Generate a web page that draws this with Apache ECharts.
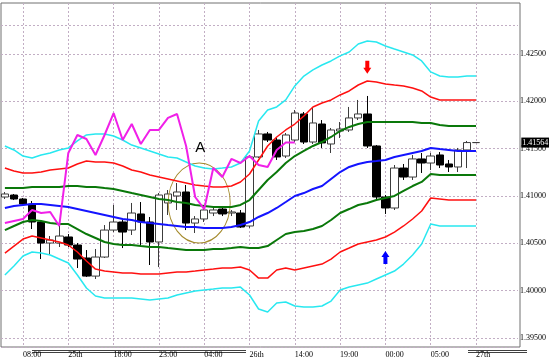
<!DOCTYPE html>
<html><head><meta charset="utf-8">
<script src="https://cdn.jsdelivr.net/npm/echarts@6/dist/echarts.min.js"></script>
<style>html,body{margin:0;padding:0;background:#fff}#c{width:549px;height:361px}</style>
</head><body><div id="c"></div>
<script>
// ---- data ----
const tickLabels = ['08:00','25th','18:00','23:00','04:00','26th','14:00','19:00','00:00','05:00','27th'];
const firstTickIndex = 2, tickStep = 5, slotCount = 58;

const open = [1.40989,1.41010,1.40968,1.40915,1.40725,1.40503,1.40503,1.40567,1.40482,1.40345,
1.40154,1.40355,1.40640,1.40725,1.40640,1.40810,1.40725,1.40514,1.40926,1.41000,
1.41042,1.40714,1.40757,1.40820,1.40862,1.40820,1.40820,1.40683,1.41412,1.41655,
1.41591,1.41422,1.41591,1.41866,1.41570,1.41760,1.41549,1.41686,1.41697,1.41824,
1.41866,1.41528,1.40989,1.40873,1.41295,1.41200,1.41391,1.41348,1.41433,1.41338,
1.41306,1.41486,1.41564];
const close = [1.41021,1.40968,1.40915,1.40725,1.40503,1.40535,1.40577,1.40482,1.40334,1.40154,
1.40355,1.40640,1.40725,1.40619,1.40820,1.40725,1.40514,1.41010,1.41021,1.41042,
1.40714,1.40757,1.40852,1.40852,1.40810,1.40831,1.40672,1.41412,1.41655,1.41591,
1.41412,1.41644,1.41876,1.41570,1.41771,1.41560,1.41697,1.41707,1.41824,1.41866,
1.41528,1.40989,1.40873,1.41295,1.41200,1.41391,1.41348,1.41422,1.41327,1.41306,
1.41486,1.41564,1.41564];
const low = [1.40968,1.40957,1.40894,1.40651,1.40334,1.40376,1.40461,1.40461,1.40239,1.40144,
1.40123,1.40345,1.40619,1.40450,1.40588,1.40482,1.40271,1.40249,1.40799,1.40852,
1.40640,1.40609,1.40725,1.40788,1.40788,1.40788,1.40662,1.40662,1.41401,1.41570,
1.41380,1.41401,1.41570,1.41549,1.41549,1.41507,1.41454,1.41612,1.41676,1.41802,
1.41507,1.40968,1.40810,1.40852,1.41169,1.41169,1.41243,1.41274,1.41295,1.41253,
1.41253,1.41295,1.41564];
const high = [1.41042,1.41021,1.40979,1.40947,1.40746,1.40577,1.40683,1.40598,1.40503,1.40429,
1.40440,1.40693,1.40905,1.40746,1.40926,1.40936,1.40778,1.41031,1.41063,1.41137,
1.41116,1.40788,1.40905,1.40883,1.40883,1.40852,1.40852,1.41433,1.41697,1.41676,
1.41612,1.41665,1.41908,1.41887,1.41929,1.41802,1.41718,1.41781,1.41940,1.42014,
1.42056,1.41538,1.41010,1.41327,1.41338,1.41433,1.41454,1.41454,1.41464,1.41380,
1.41507,1.41581,1.41564];

const lagLine = [1.40714,1.40736,1.40757,1.40852,1.40820,1.40831,1.40683,1.41454,1.41644,1.41602,
1.41433,1.41644,1.41876,1.41591,1.41760,1.41549,1.41697,1.41697,1.41824,1.41866,
1.41528,1.40989,1.40862,1.41295,1.41200,1.41391,1.41348,1.41422,1.41327,1.41306,
1.41486,1.41564,1.41564];

const bbMid = [1.40873,1.40894,1.40905,1.40915,1.40915,1.40905,1.40894,1.40883,1.40862,1.40841,
1.40820,1.40799,1.40778,1.40757,1.40746,1.40725,1.40714,1.40704,1.40693,1.40683,
1.40672,1.40672,1.40662,1.40662,1.40662,1.40672,1.40693,1.40725,1.40778,1.40820,
1.40873,1.40936,1.41000,1.41031,1.41074,1.41105,1.41179,1.41253,1.41306,1.41338,
1.41359,1.41369,1.41380,1.41412,1.41433,1.41454,1.41475,1.41507,1.41496,1.41486,
1.41475,1.41475,1.41475];
const bbUp1 = [1.41084,1.41084,1.41084,1.41095,1.41095,1.41095,1.41095,1.41105,1.41105,1.41095,
1.41095,1.41084,1.41074,1.41053,1.41031,1.41010,1.40989,1.40968,1.40957,1.40936,
1.40926,1.40905,1.40894,1.40883,1.40883,1.40883,1.40905,1.40957,1.41063,1.41169,
1.41253,1.41348,1.41422,1.41475,1.41528,1.41570,1.41623,1.41686,1.41729,1.41760,
1.41781,1.41781,1.41781,1.41781,1.41781,1.41781,1.41771,1.41771,1.41750,1.41739,
1.41739,1.41739,1.41739];
const bbDn1 = [1.40640,1.40683,1.40725,1.40746,1.40736,1.40714,1.40704,1.40704,1.40651,1.40598,
1.40556,1.40514,1.40493,1.40482,1.40482,1.40471,1.40461,1.40461,1.40450,1.40440,
1.40429,1.40429,1.40429,1.40440,1.40440,1.40450,1.40461,1.40450,1.40450,1.40471,
1.40535,1.40598,1.40619,1.40630,1.40651,1.40683,1.40746,1.40820,1.40862,1.40905,
1.40926,1.40957,1.40979,1.41000,1.41053,1.41105,1.41148,1.41232,1.41222,1.41222,
1.41222,1.41222,1.41222];
const bbUp2 = [1.41295,1.41264,1.41243,1.41243,1.41253,1.41274,1.41285,1.41295,1.41338,1.41369,
1.41359,1.41359,1.41348,1.41317,1.41274,1.41253,1.41222,1.41200,1.41179,1.41158,
1.41137,1.41116,1.41105,1.41095,1.41095,1.41105,1.41148,1.41232,1.41380,1.41528,
1.41623,1.41697,1.41760,1.41845,1.41940,1.41982,1.42014,1.42067,1.42109,1.42172,
1.42214,1.42204,1.42183,1.42172,1.42162,1.42140,1.42109,1.42045,1.42014,1.42014,
1.42014,1.42014,1.42014];
const bbDn2 = [1.40397,1.40471,1.40545,1.40577,1.40556,1.40535,1.40514,1.40482,1.40408,1.40313,
1.40228,1.40207,1.40197,1.40186,1.40186,1.40175,1.40175,1.40175,1.40186,1.40197,
1.40197,1.40207,1.40218,1.40228,1.40239,1.40239,1.40249,1.40218,1.40133,1.40133,
1.40218,1.40239,1.40218,1.40239,1.40260,1.40281,1.40334,1.40408,1.40450,1.40493,
1.40514,1.40535,1.40567,1.40619,1.40683,1.40757,1.40841,1.40979,1.40968,1.40957,
1.40957,1.40957,1.40957];
const bbUp3 = [1.41528,1.41486,1.41422,1.41401,1.41433,1.41454,1.41486,1.41507,1.41581,1.41644,
1.41655,1.41655,1.41633,1.41591,1.41538,1.41507,1.41475,1.41443,1.41412,1.41401,
1.41359,1.41317,1.41295,1.41285,1.41295,1.41306,1.41348,1.41475,1.41792,1.41908,
1.41940,1.42014,1.42162,1.42267,1.42331,1.42383,1.42426,1.42479,1.42521,1.42605,
1.42637,1.42626,1.42584,1.42552,1.42521,1.42489,1.42426,1.42310,1.42267,1.42257,
1.42257,1.42267,1.42267];
const bbDn3 = [1.40165,1.40260,1.40366,1.40408,1.40397,1.40376,1.40334,1.40292,1.40165,1.40028,
1.39943,1.39922,1.39922,1.39922,1.39922,1.39912,1.39901,1.39912,1.39922,1.39954,
1.39975,1.39996,1.40007,1.40017,1.40028,1.40028,1.40038,1.39954,1.39806,1.39774,
1.39869,1.39880,1.39838,1.39827,1.39827,1.39838,1.39890,1.40007,1.40038,1.40059,
1.40080,1.40123,1.40165,1.40207,1.40281,1.40376,1.40493,1.40704,1.40683,1.40683,
1.40683,1.40683,1.40683];

const lastPrice = 1.41564;
const yMin = 1.39405, yMax = 1.43038;   // visible price range of the plot
const labelMax = 1.42800;               // top of the labelled scale (no 1.43000 line)
// annotation anchors (bar index, price)
const sellArrow = [40, 1.42359];
const buyArrow = [42, 1.40350];
const circleA = [22, 1.40926];
const labelA = [22, 1.41507];

// ---- chart ----
const categories = [];
for (let i = 0; i < slotCount; i++) {
  const k = i - firstTickIndex;
  categories.push(k >= 0 && k % tickStep === 0 && k / tickStep < tickLabels.length ? tickLabels[k / tickStep] : '');
}
const candles = open.map((o, i) => [o, close[i], low[i], high[i]]);
const serif = 'Liberation Serif';
const gridCol = '#c2aec4';

const plotTop = 3, plotH = 344;
const pxPerUnit = plotH / (yMax - yMin);
const labelTop = plotTop + (yMax - labelMax) * pxPerUnit;

function lineSeries(data, color, width, extra) {
  return Object.assign({
    type: 'line', data: data, symbol: 'none', smooth: false, z: 5,
    lineStyle: { color: color, width: width }, silent: true,
    emphasis: { disabled: true }, clip: false
  }, extra || {});
}

const chart = echarts.init(document.getElementById('c'));
chart.setOption({
  animation: false,
  backgroundColor: '#ffffff',
  grid: [
    { left: 4.9, top: plotTop, width: 57 * 9.06, height: plotH, show: false },
    { left: 1, top: plotTop, width: 519, height: plotH, show: true, borderColor: '#707070', borderWidth: 1, backgroundColor: 'transparent' },
    { left: 1, top: labelTop, width: 519, height: plotTop + plotH - labelTop, show: false }
  ],
  xAxis: [
    { type: 'category', gridIndex: 0, data: categories, boundaryGap: false,
      axisLine: { show: false }, axisTick: { show: false },
      axisLabel: { interval: 0, align: 'left', margin: 4, fontSize: 8, fontFamily: serif, color: '#000' },
      splitLine: { show: true, interval: function (idx, val) { return val !== ''; },
        lineStyle: { color: gridCol, type: [2, 2], width: 1 } } },
    { type: 'value', gridIndex: 1, min: 0, max: 1, show: false },
    { type: 'value', gridIndex: 2, min: 0, max: 1, show: false }
  ],
  yAxis: [
    { type: 'value', gridIndex: 0, min: yMin, max: yMax, show: false, splitLine: { show: false } },
    { type: 'value', gridIndex: 1, min: yMin, max: yMax, show: false, splitLine: { show: false } },
    { type: 'value', gridIndex: 2, min: yMin, max: labelMax, position: 'right', splitNumber: 6,
      axisLine: { show: false }, axisTick: { show: false },
      axisLabel: { margin: 2, fontSize: 8, fontFamily: serif, color: '#000',
        showMinLabel: false, showMaxLabel: false,
        formatter: function (v) { return v.toFixed(5); } },
      splitLine: { show: true, lineStyle: { color: gridCol, type: [2, 2], width: 1 } } }
  ],
  series: [
    { type: 'candlestick', xAxisIndex: 0, yAxisIndex: 0, data: candles, barWidth: 8, z: 3,
      clip: false, silent: true,
      itemStyle: { color: '#ffffff', color0: '#000000', borderColor: '#3c3c3c', borderColor0: '#000000', borderWidth: 1 },
      markLine: { silent: true, symbol: ['none', 'none'], animation: false, z: 10, precision: 5,
        data: [{ yAxis: lastPrice }],
        lineStyle: { color: 'rgba(0,0,0,0)', width: 1, type: 'solid' },
        label: { show: true, position: 'end', distance: 0, formatter: function (p) { return Number(p.value).toFixed(5); },
          backgroundColor: '#000', color: '#fff', fontSize: 8, fontFamily: serif, padding: [1, 1, 1, 1] } }
    },
    lineSeries(bbUp3, '#28e8f0', 1.5),
    lineSeries(bbDn3, '#28e8f0', 1.5),
    lineSeries(bbUp2, '#ff1010', 1.5),
    lineSeries(bbDn2, '#ff1010', 1.5),
    lineSeries(bbUp1, '#0a780a', 2),
    lineSeries(bbDn1, '#0a780a', 2),
    lineSeries(bbMid, '#1414ff', 2, {
      markPoint: { silent: true, animation: false, label: { show: false },
        data: [
          { coord: sellArrow, symbol: 'path://M2,0 L6,0 L6,7 L8,7 L4,13 L0,7 L2,7 Z', symbolSize: [8, 13], symbolKeepAspect: false,
            itemStyle: { color: '#ff0000' } },
          { coord: buyArrow, symbol: 'path://M4,0 L8,6 L6,6 L6,13 L2,13 L2,6 L0,6 Z', symbolSize: [8, 13], symbolKeepAspect: false,
            itemStyle: { color: '#0000ff' } },
          { coord: circleA, symbol: 'path://M0,40 A31,40 0 1,1 62,40 A31,40 0 1,1 0,40 Z', symbolSize: [62, 80], symbolOffset: [-5, 0],
            symbolKeepAspect: false, itemStyle: { color: 'rgba(0,0,0,0)', borderColor: '#a48a2c', borderWidth: 1 } },
          { coord: labelA, symbol: 'rect', symbolSize: [1, 1], itemStyle: { color: 'rgba(0,0,0,0)' },
            label: { show: true, position: 'inside', formatter: 'A', color: '#000', fontSize: 15, fontFamily: 'Liberation Sans', offset: [-4, 0] } }
        ] } }),
    lineSeries(lagLine, '#f020e8', 2, { z: 6 })
  ],
  graphic: [
    { type: 'line', shape: { x1: 32, y1: 350.5, x2: 246, y2: 350.5 }, style: { stroke: '#404040', lineWidth: 1 }, silent: true },
    { type: 'line', shape: { x1: 32, y1: 352.5, x2: 246, y2: 352.5 }, style: { stroke: '#404040', lineWidth: 1 }, silent: true },
    { type: 'line', shape: { x1: 468, y1: 350.5, x2: 527, y2: 350.5 }, style: { stroke: '#404040', lineWidth: 1 }, silent: true },
    { type: 'line', shape: { x1: 468, y1: 352.5, x2: 527, y2: 352.5 }, style: { stroke: '#404040', lineWidth: 1 }, silent: true }
  ]
});
</script>
</body></html>
